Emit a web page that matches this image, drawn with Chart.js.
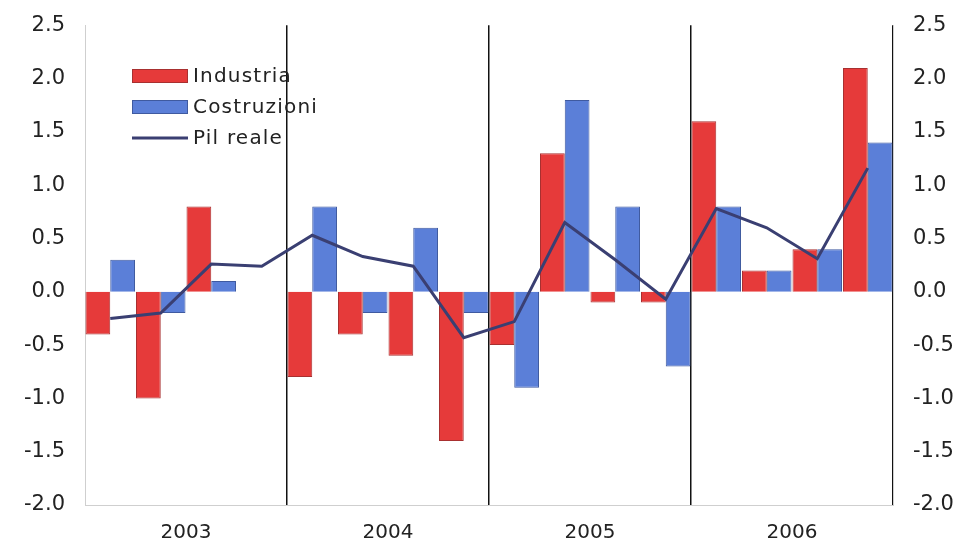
<!DOCTYPE html>
<html>
<head>
<meta charset="utf-8">
<script src="https://cdn.jsdelivr.net/npm/chart.js@4"></script>
<style>
html,body{margin:0;padding:0;background:#fff;}
#wrap{width:971px;height:543px;position:relative;}
</style>
</head>
<body>
<div id="wrap"><canvas id="c" width="971" height="543"></canvas></div>
<script>
const quarters = ['2003 T1','2003 T2','2003 T3','2003 T4','2004 T1','2004 T2','2004 T3','2004 T4','2005 T1','2005 T2','2005 T3','2005 T4','2006 T1','2006 T2','2006 T3','2006 T4'];
const years = ['2003','2004','2005','2006'];
const industria = [-0.4,-1.0,0.8,0,-0.8,-0.4,-0.6,-1.4,-0.5,1.3,-0.1,-0.1,1.6,0.2,0.4,2.1];
const costruzioni = [0.3,-0.2,0.1,0,0.8,-0.2,0.6,-0.2,-0.9,1.8,0.8,-0.7,0.8,0.2,0.4,1.4];
const pilReale = [-0.25,-0.2,0.26,0.24,0.53,0.33,0.24,-0.43,-0.28,0.65,0.3,-0.07,0.78,0.6,0.31,1.16];
const yTicks = [-2.0,-1.5,-1.0,-0.5,0.0,0.5,1.0,1.5,2.0,2.5];

const FONT = 'DejaVu Sans';

const legendPlugin = {
  id: 'inlegend',
  afterDraw(chart) {
    const ctx = chart.ctx;
    const items = chart.data.datasets;
    const x0 = 132, y0 = 76, dy = 31;
    ctx.save();
    ctx.font = '20px "' + FONT + '"';
    if ('letterSpacing' in ctx) ctx.letterSpacing = '1.2px';
    ctx.textBaseline = 'middle';
    items.forEach((ds, i) => {
      const y = y0 + i * dy;
      if (ds.type === 'line') {
        ctx.strokeStyle = ds.borderColor;
        ctx.lineWidth = 3;
        ctx.beginPath();
        ctx.moveTo(x0, y);
        ctx.lineTo(x0 + 56, y);
        ctx.stroke();
      } else {
        ctx.fillStyle = ds.backgroundColor;
        ctx.fillRect(x0, y - 7, 56, 14);
        ctx.strokeStyle = ds.borderColor;
        ctx.lineWidth = 1;
        ctx.strokeRect(x0 + 0.5, y - 6.5, 55, 13);
      }
      ctx.fillStyle = '#222';
      ctx.fillText(ds.label, x0 + 61, y + 1);
    });
    ctx.restore();
  }
};

new Chart(document.getElementById('c'), {
  data: {
    labels: quarters,
    datasets: [
      { type: 'bar', label: 'Industria', data: industria, backgroundColor: '#e63a3a', borderColor: '#a83030', borderWidth: 1, order: 2, yAxisID: 'y' },
      { type: 'bar', label: 'Costruzioni', data: costruzioni, backgroundColor: '#5b7fd8', borderColor: '#3f5aa0', borderWidth: 1, order: 2, yAxisID: 'y' },
      { type: 'line', label: 'Pil reale', data: pilReale, borderColor: '#3a3f72', borderWidth: 3, pointRadius: 0, tension: 0, order: 1, yAxisID: 'y' }
    ]
  },
  options: {
    responsive: false,
    animation: false,
    layout: { padding: { top: 14, right: 0, left: 0, bottom: 0 } },
    plugins: { legend: { display: false }, tooltip: { enabled: false } },
    datasets: { bar: { categoryPercentage: 0.98, barPercentage: 1.0 } },
    scales: {
      x: {
        display: false,
        offset: true,
        grid: { display: false }
      },
      xYears: {
        type: 'category',
        labels: years,
        position: 'bottom',
        offset: true,
        afterFit: (s) => { s.height = 38; },
        border: { color: '#cfcfcf', width: 1 },
        grid: {
          offset: true,
          drawTicks: false,
          color: (c) => (c.index === 0 ? 'rgba(0,0,0,0)' : '#111'),
          lineWidth: 1.5
        },
        ticks: { font: { family: FONT, size: 20 }, color: '#222', padding: 16 }
      },
      y: {
        position: 'left',
        min: -2.0, max: 2.5,
        afterBuildTicks: (s) => { s.ticks = yTicks.map(v => ({ value: v })); },
        afterFit: (s) => { s.width = 85; },
        border: { color: '#cfcfcf', width: 1 },
        grid: { display: false, drawTicks: false },
        ticks: { font: { family: FONT, size: 21, lineHeight: 0.5 }, color: '#222', padding: 20, callback: (v) => Number(v).toFixed(1) }
      },
      y2: {
        position: 'right',
        min: -2.0, max: 2.5,
        afterBuildTicks: (s) => { s.ticks = yTicks.map(v => ({ value: v })); },
        afterFit: (s) => { s.width = 78; },
        border: { color: '#cfcfcf', width: 1 },
        grid: { display: false, drawTicks: false },
        ticks: { font: { family: FONT, size: 21, lineHeight: 0.5 }, color: '#222', padding: 20, callback: (v) => Number(v).toFixed(1) }
      }
    }
  },
  plugins: [legendPlugin]
});
</script>
</body>
</html>
